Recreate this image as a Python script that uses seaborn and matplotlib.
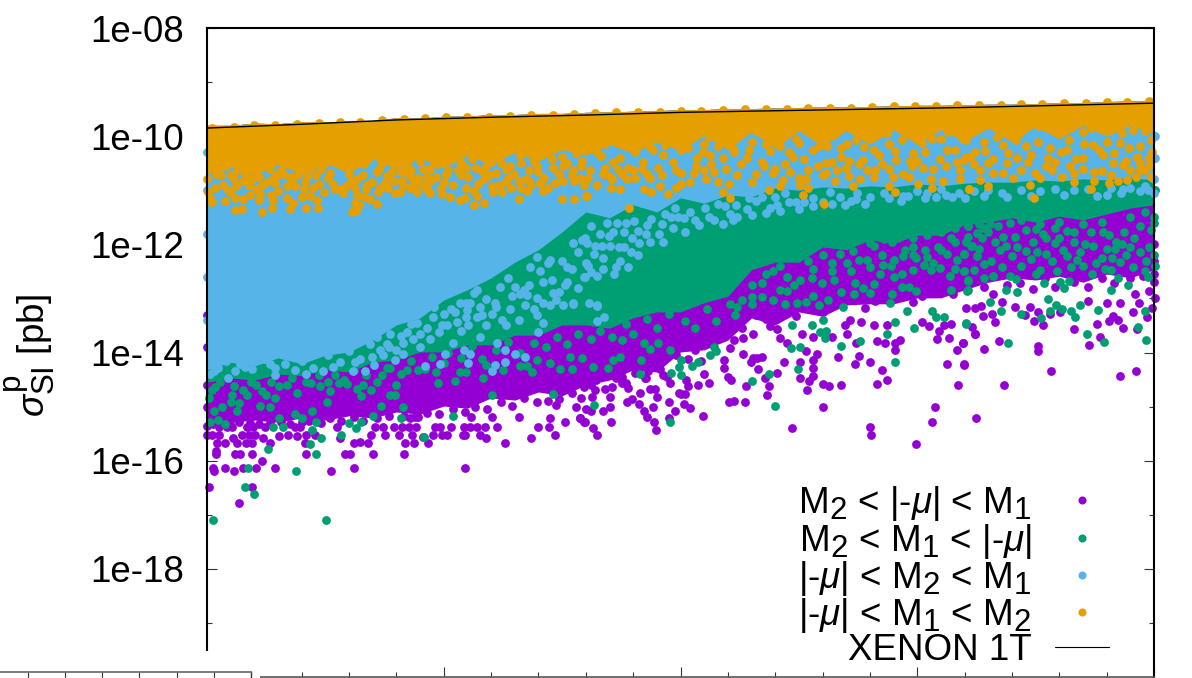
import matplotlib
matplotlib.use("Agg")
import matplotlib.pyplot as plt
import matplotlib._mathtext as _mt
from matplotlib.lines import Line2D
from matplotlib.patches import Rectangle
from matplotlib.ticker import FixedLocator, FixedFormatter, NullFormatter
import numpy as np
import pandas as pd
import seaborn as sns

# ---------- values (x in axis units 0-1000, y as log10 sigma) ----------
band_x = [0,25,50,75,100,125,150,175,200,225,250,275,300,325,350,375,400,425,450,475,500,
          525,550,575,600,625,650,675,700,725,750,775,800,825,850,875,900,925,950,975,1000]
band_top = [-9.80,-9.80,-9.76,-9.77,-9.73,-9.74,-9.71,-9.71,-9.66,-9.67,-9.63,-9.63,-9.60,-9.60,-9.58,-9.58,-9.56,-9.55,-9.54,-9.53,-9.51,
            -9.51,-9.49,-9.49,-9.48,-9.47,-9.46,-9.46,-9.45,-9.44,-9.43,-9.43,-9.42,-9.41,-9.41,-9.40,-9.38,-9.38,-9.36,-9.35,-9.34]
orange_low = [-10.70,-10.55,-10.72,-10.52,-10.70,-10.50,-10.68,-10.42,-10.60,-10.40,-10.58,-10.36,-10.52,-10.30,-10.46,-10.25,-10.35,-10.15,-10.32,-10.08,-10.28,
              -9.98,-10.25,-9.92,-10.22,-9.90,-10.18,-9.90,-10.15,-9.88,-10.15,-9.88,-10.10,-9.85,-10.10,-9.82,-10.05,-9.80,-10.00,-9.80,-9.95]
blue_low = [-14.32,-14.18,-14.25,-14.10,-14.21,-14.05,-13.99,-13.77,-13.49,-13.36,-13.03,-12.84,-12.62,-12.33,-12.10,-11.77,-11.40,-11.51,-11.27,-11.40,-11.14,
            -11.24,-11.09,-11.12,-10.96,-11.00,-10.94,-10.96,-10.92,-10.94,-10.88,-10.92,-10.87,-10.85,-10.85,-10.81,-10.83,-10.79,-10.81,-10.77,-10.81]
green_low = [-14.55,-14.47,-14.51,-14.40,-14.43,-14.32,-14.36,-14.18,-14.14,-13.99,-13.99,-13.86,-13.86,-13.68,-13.68,-13.49,-13.49,-13.55,-13.36,-13.25,-13.25,
             -13.08,-12.96,-12.47,-12.33,-12.33,-12.05,-12.10,-11.92,-11.98,-11.83,-11.83,-11.64,-11.59,-11.51,-11.59,-11.48,-11.55,-11.44,-11.33,-11.27]
purple_low = [-15.25,-15.29,-15.25,-15.29,-15.21,-15.25,-15.17,-15.21,-15.10,-15.14,-14.99,-15.03,-14.84,-14.88,-14.73,-14.80,-14.60,-14.51,-14.32,-14.36,-13.99,
              -13.95,-13.77,-13.36,-13.49,-13.25,-13.33,-13.12,-13.10,-13.10,-12.99,-12.99,-12.84,-12.70,-12.62,-12.66,-12.59,-12.70,-12.55,-12.62,-12.47]

xenon_x = [0,100,200,300,400,500,600,700,800,900,1000]
xenon_y = [-9.85,-9.78,-9.70,-9.65,-9.61,-9.56,-9.53,-9.50,-9.47,-9.43,-9.39]

purple_points = [
 (2,-16.49),(34,-16.79),(48,-16.49),(7,-16.19),(6,-16.13),(19,-16.13),(29,-16.19),(38,-16.13),(52,-16.13),(58,-16.01),(72,-16.13),(131,-16.19),(155,-16.13),(272,-16.13),
 (9,-15.83),(9,-15.88),(30,-15.88),(35,-15.88),(47,-15.88),(105,-15.88),(146,-15.88),(151,-15.88),(175,-15.88),(208,-15.88),
 (11,-15.68),(19,-15.68),(32,-15.68),(41,-15.68),(48,-15.68),(66,-15.68),(104,-15.68),(155,-15.68),(162,-15.65),(170,-15.68),(209,-15.68),(219,-15.68),(233,-15.68),(315,-15.68),
 (0,-15.53),(5,-15.53),(13,-15.53),(27,-15.58),(37,-15.53),(44,-15.53),(51,-15.53),(59,-15.58),(76,-15.55),(86,-15.53),(95,-15.55),(105,-15.53),(114,-15.53),(140,-15.58),(173,-15.53),(188,-15.53),(203,-15.53),(216,-15.53),(228,-15.57),(239,-15.53),(248,-15.53),(253,-15.53),(270,-15.53),(272,-15.53),(288,-15.53),(295,-15.58),(342,-15.58),(368,-15.53),
 (13,-15.38),(21,-15.38),(26,-15.38),(42,-15.38),(49,-15.38),(61,-15.38),(93,-15.38),(98,-15.38),(137,-15.38),(177,-15.38),(186,-15.38),(197,-15.38),(206,-15.38),(213,-15.38),(221,-15.38),(241,-15.38),(246,-15.38),(258,-15.38),(271,-15.38),(278,-15.38),(285,-15.38),(294,-15.38),(306,-15.38),(350,-15.38),(361,-15.38),
 (329,-15.19),(362,-15.22),(378,-15.28),(394,-15.22),(399,-15.28),(301,-15.19),(279,-15.19),(214,-15.22),(223,-15.19),(390,-15.00),(369,-14.97),
 (412,-15.53),(408,-15.40),(398,-15.28),(394,-15.22),(427,-15.28),(474,-15.43),(472,-15.28),(465,-15.19),(488,-15.22),(494,-15.08),(524,-15.17),(618,-15.39),(700,-15.38),(701,-15.53),(749,-15.69),(766,-15.28),(769,-15.00),(812,-15.22),(651,-15.00),
 (551,-14.92),(556,-14.90),(568,-14.92),(591,-14.78),(593,-14.62),(569,-14.62),(634,-14.69),(650,-14.58),(657,-14.62),(670,-14.60),(708,-14.58),(793,-14.60),(718,-14.50),(713,-14.32),(700,-14.18),(684,-14.21),(688,-14.07),(666,-14.09),(781,-14.21),(799,-14.22),(792,-13.95),(798,-13.82),(783,-13.73),(771,-13.75),(773,-13.60),(778,-13.49),(786,-13.48),(762,-13.51),(811,-13.65),(755,-13.43),
 (726,-13.95),(727,-13.83),(732,-13.76),(716,-13.83),(708,-13.79),(685,-13.82),(626,-14.48),(640,-14.43),(636,-14.53),(609,-14.18),(626,-14.18),(640,-14.28),(589,-14.48),(602,-14.37),(582,-14.31),
 (546,-14.13),(546,-14.28),(550,-14.45),(553,-14.50),(530,-14.57),(518,-14.60),(525,-14.40),(508,-14.62),(506,-14.51),(505,-14.77),(500,-14.77),(498,-14.74),(510,-15.03),(504,-14.96),(475,-14.82),(471,-15.00),(488,-14.92),(461,-15.09),(456,-14.96),(443,-14.92),(449,-14.86),(457,-14.74),(468,-14.68),(473,-14.68),
 (426,-15.00),(426,-14.82),(418,-15.08),(405,-15.08),(400,-15.05),(407,-14.82),(398,-14.63),(405,-14.60),(411,-14.51),(428,-14.63),(438,-14.57),(445,-14.66),(426,-14.42),(438,-14.32),(438,-14.45),(464,-14.48),(466,-14.35),(481,-14.42),(489,-14.57),
 (566,-14.02),(574,-14.17),(586,-14.08),(577,-14.10),(581,-14.10),(566,-13.74),(577,-13.65),(556,-13.77),(552,-13.92),(605,-13.74),(612,-13.82),(602,-13.57),(595,-13.51),(628,-13.65),(640,-13.71),(660,-13.71),(633,-13.98),(644,-14.02),(640,-14.14),(676,-13.65),(674,-13.49),(679,-13.40),(704,-13.49),(691,-13.43),(718,-13.49),
 (842,-14.61),(891,-14.34),(964,-14.43),(981,-14.35),(799,-14.23),(820,-13.94),(836,-13.78),(877,-13.88),(878,-13.98),(798,-13.83),(811,-13.66),(808,-13.52),(931,-13.86),(943,-13.71),(916,-13.57),(967,-13.55),(982,-13.57),(940,-13.47),(883,-13.50),(873,-13.41),(832,-13.44),(819,-13.32),(993,-13.35),(952,-13.41),(962,-13.39),(957,-13.32),(978,-13.26),(877,-13.26),(864,-13.31),(829,-13.29),(801,-13.18),(811,-13.18),(817,-13.14),(840,-13.06),(853,-13.15),(869,-13.16),(890,-13.29),(901,-13.26),(930,-13.04),(950,-13.09),(964,-13.09),(984,-13.09),(998,-13.18),(995,-12.87),(980,-12.91),
 (0,-15.00),(0,-14.60),(0,-13.90),(0,-13.30),(0,-15.35),(1000,-12.70),(1000,-12.30),(1000,-12.00),(1001,-13.00),
 (6,-15.32),(16,-15.30),(24,-15.33),(34,-15.28),(45,-15.30),(55,-15.33),(66,-15.30),(78,-15.28),(88,-15.33),(100,-15.28),(108,-15.26),(120,-15.30),(130,-15.22),(142,-15.26),(155,-15.20),(165,-15.26),(180,-15.22),(192,-15.18),(208,-15.18),(220,-15.20),(232,-15.12),(245,-15.14),(260,-15.05),(272,-15.10),(283,-15.00),(296,-15.05),(310,-14.92),(322,-14.98),(335,-14.85),(348,-14.92),(360,-14.90),(372,-14.86),(385,-14.75),(395,-14.85),(410,-14.70),(420,-14.68),(432,-14.48),(442,-14.56),(452,-14.38),(462,-14.48),(478,-14.30),(486,-14.45),(495,-14.05),(508,-14.12),(515,-13.95),(522,-14.15),(535,-13.60),(545,-13.72),(558,-13.42),(565,-13.55),(580,-13.30),(590,-13.38),(612,-13.20),(622,-13.32),(636,-13.18),(650,-13.25),(662,-13.08),(680,-13.02),(695,-13.18),(705,-13.04),(722,-13.02),(735,-12.92),(745,-13.06),(755,-12.95),(770,-12.85),(788,-12.92),(805,-12.72),(820,-12.78),(830,-12.92),(845,-12.75),(858,-12.72),(872,-12.82),(885,-12.62),(895,-12.78),(915,-12.70),(930,-12.78),(945,-12.62),(958,-12.72),(975,-12.62),(988,-12.58),(1000,-12.55),
]

green_points = [
 (64,-15.78),(43,-16.13),(40,-16.49),(50,-16.61),(6,-17.09),(126,-17.09),(94,-16.19),(115,-15.88),(109,-15.69),(120,-15.58),(141,-15.53),(229,-15.57),(111,-15.43),(157,-15.39),(150,-15.30),(163,-15.28),(80,-15.38),(70,-15.37),(19,-15.33),(12,-15.25),(3,-15.28),(76,-15.22),(100,-15.21),(115,-15.28),(175,-15.17),(205,-15.22),(260,-15.17),(207,-15.00),(184,-14.98),(111,-15.08),(93,-15.14),(7,-15.08),(16,-15.00),(32,-15.09),(56,-14.98),(66,-15.00),(127,-14.92),(72,-14.85),(2,-14.85),(25,-14.91),(34,-14.94),(42,-14.79),(62,-14.79),(95,-14.74),(163,-14.80),(193,-14.79),(198,-14.79),(301,-14.79),(365,-14.77),(76,-14.62),(52,-14.60),(26,-14.79),(8,-14.64),(130,-14.71),(158,-14.68),(173,-14.69),(200,-14.60),(244,-14.57),(262,-14.53),(291,-14.48),(148,-14.59),(139,-14.57),(119,-14.62),(110,-14.57),(165,-14.60),(179,-14.54),(343,-14.36),(338,-14.25),(373,-14.31),(385,-14.31),(330,-14.25),(313,-14.32),(348,-14.13),(362,-14.20),(383,-14.09),(396,-14.11),(193,-14.29),(242,-14.36),(223,-14.32),(211,-14.32),(267,-14.36),(274,-14.36),(295,-14.23),
 (409,-14.97),(489,-15.28),(600,-14.99),(575,-14.52),(593,-14.39),(624,-14.31),(617,-13.92),(626,-13.89),(670,-13.88),(690,-13.79),(727,-14.18),(801,-13.47),(747,-13.54),(739,-13.24),(766,-13.23),(770,-13.34),(778,-13.34),(726,-13.43),(718,-13.65),(639,-13.49),(647,-13.62),(654,-13.60),(653,-13.74),(651,-13.40),(618,-13.49),
 (490,-14.37),(501,-14.42),(498,-14.26),(512,-14.25),(519,-14.17),(423,-14.28),(457,-14.39),(408,-14.26),(531,-14.05),(535,-13.89),(537,-13.98),(458,-14.13),(429,-14.13),(436,-14.09),(468,-13.94),(461,-13.83),(489,-13.95),(476,-13.82),(438,-13.76),(501,-14.13),
 (801,-13.46),(846,-13.83),(929,-13.65),(947,-13.81),(983,-13.53),(992,-13.76),(941,-13.21),(917,-13.34),(881,-13.36),(860,-13.29),(838,-13.23),(827,-13.06),(890,-13.23),(897,-13.12),(903,-13.20),(912,-13.24),(922,-13.12),(991,-13.23),(888,-13.02),(955,-12.84),(973,-12.75),(994,-12.60),(962,-12.63),(855,-12.89),(844,-12.84),(803,-12.86),(804,-12.67),(884,-12.71),(901,-12.69),(905,-12.80),(910,-12.68),(854,-12.65),(848,-12.59),(875,-12.55),(799,-12.49),(821,-12.62),(830,-12.58),
 (799,-12.17),(813,-12.22),(820,-12.36),(807,-12.04),(802,-11.95),(837,-12.10),(844,-12.04),(865,-12.12),(876,-12.15),(886,-12.17),(895,-11.98),(904,-12.10),(908,-12.21),(922,-12.15),(919,-12.29),(927,-11.99),(936,-12.04),(939,-12.34),(945,-12.26),(959,-12.09),(956,-12.26),(964,-12.32),(992,-12.30),(979,-11.89),(966,-11.99),(960,-11.95),(968,-11.77),(997,-11.73),(985,-11.67),(953,-11.83),(946,-11.78),(934,-11.77),(916,-11.78),(908,-11.75),(895,-11.70),(883,-11.80),(886,-11.89),(872,-11.95),(853,-11.86),(841,-11.86),(832,-11.95),(818,-11.89),(813,-11.79),(819,-11.70),(804,-11.86),(804,-11.67),(865,-11.73),(848,-11.61),(827,-11.62),
 (565,-13.03),(575,-12.97),(586,-12.97),(598,-13.03),(612,-12.87),(623,-13.09),(633,-13.06),(646,-13.12),(656,-13.03),(672,-13.15),(683,-12.91),(721,-13.09),(723,-12.91),(749,-12.87),(786,-12.84),(804,-12.66),(799,-12.50),(765,-12.47),(774,-12.44),(746,-12.47),(734,-12.54),(725,-12.60),(711,-12.54),(704,-12.74),(693,-12.81),(684,-12.72),(662,-12.66),(649,-12.72),(639,-12.63),(626,-12.66),(612,-12.60),(598,-12.50),(586,-12.72),(785,-12.58),(804,-12.84),(741,-12.78),(734,-12.78),(660,-12.35),(676,-12.35),(688,-12.29),(697,-12.29),(714,-12.38),(725,-12.29),(737,-12.10),(749,-12.26),(758,-12.10),(781,-12.17),(792,-12.29),(799,-12.17),(808,-12.04),(804,-11.67),(786,-11.89),(767,-12.35),(757,-12.38),(723,-11.95),(713,-12.20),(704,-12.04),
 (1001,-11.00),(1000,-10.00),(1001,-12.40),(1000,-11.60),
 (5,-14.70),(14,-14.55),(28,-14.62),(38,-14.70),(46,-14.55),(58,-14.72),(68,-14.55),(85,-14.60),(90,-14.48),(105,-14.55),(118,-14.42),(128,-14.55),(135,-14.42),(145,-14.50),(155,-14.32),(168,-14.42),(185,-14.42),(190,-14.28),(205,-14.40),(215,-14.15),(230,-14.30),(238,-14.08),(250,-14.20),(255,-14.00),(268,-14.10),(280,-13.88),(290,-14.12),(305,-13.95),(318,-13.80),(330,-14.00),(345,-13.82),(358,-13.90),(370,-13.72),(380,-13.85),(392,-13.65),(405,-13.75),(415,-13.60),(428,-13.72),(442,-13.48),(450,-13.65),(465,-13.38),(475,-13.55),(488,-13.28),(505,-13.42),(515,-13.55),(528,-13.20),(538,-13.42),(552,-13.10),(558,-13.30),(575,-12.75),(590,-12.55),(605,-12.40),(635,-12.30),(650,-12.20),(668,-12.18),(682,-12.12),(700,-11.98),(715,-11.90),(730,-11.88),(745,-11.88),(760,-11.82),(775,-11.78),(790,-11.70),(815,-11.62),(835,-11.66),(860,-11.55),(880,-11.62),(900,-11.58),(925,-11.62),(945,-11.58),(975,-11.50),(990,-11.40),(1000,-11.50),
 (722,-12.40),(735,-12.22),(745,-12.05),(760,-12.24),(772,-12.05),(790,-12.45),(810,-12.48),(815,-12.08),(828,-12.30),(840,-12.42),(850,-12.22),(860,-12.40),(870,-12.28),(880,-12.48),(892,-12.30),(898,-12.50),(912,-12.42),(925,-12.40),(935,-12.55),(948,-12.45),(955,-12.48),(970,-12.20),(978,-12.42),(985,-12.15),(990,-12.50),(995,-12.05),(1000,-12.20),(975,-12.05),(950,-12.08),(915,-11.95),(900,-11.88),(875,-11.72),(855,-12.05),(825,-11.78),(790,-11.95),(775,-12.10),(745,-12.20),(700,-12.42),(680,-12.50),(660,-12.50),(640,-12.45),(620,-12.75),(605,-12.85),(575,-13.10),(560,-13.15),(610,-13.10),(640,-12.95),(670,-12.88),(700,-12.90),
]

blue_points = [
 (7,-14.35),(3,-14.39),(22,-14.48),(30,-14.35),(40,-14.26),(51,-14.08),(72,-14.42),(72,-14.29),(93,-14.32),(105,-14.40),(123,-14.34),(133,-14.26),(154,-14.35),(167,-14.34),(176,-14.23),(156,-14.17),(198,-14.14),(207,-14.02),(230,-14.25),(246,-14.21),(276,-14.20),(301,-14.35),(304,-14.23),(315,-14.18),(336,-14.09),(325,-14.02),(278,-14.02),(251,-14.02),(225,-13.89),(207,-13.83),(260,-13.83),(271,-13.95),(315,-13.95),(306,-13.83),(350,-13.62),(288,-13.71),(225,-13.65),(193,-13.65),(211,-13.62),(183,-13.95),(174,-14.08),(144,-13.89),(348,-13.31),(362,-13.12),(376,-13.12),(387,-13.10),(336,-13.12),(301,-13.28),(288,-13.15),(267,-13.09),(278,-13.09),(253,-13.49),(264,-13.43),(285,-13.34),(274,-13.34),(250,-13.28),(239,-13.34),(214,-13.34),(316,-13.49),(329,-13.40),(355,-13.46),
 (355,-12.69),(364,-12.66),(380,-12.69),(399,-12.60),(369,-13.03),(355,-13.09),(338,-12.94),(330,-12.91),(309,-12.78),(387,-13.09),(403,-13.09),(325,-12.78),(380,-12.41),(396,-11.92),(387,-11.98),(362,-12.29),(341,-12.41),(348,-12.23),(292,-12.41),(285,-12.84),(274,-13.09),(304,-13.09),
 (398,-12.60),(405,-12.52),(412,-12.58),(436,-12.30),(432,-12.41),(445,-12.41),(412,-13.13),(409,-12.17),(417,-12.04),(426,-12.04),(401,-11.98),(410,-12.04),(456,-11.97),(449,-11.89),(464,-11.81),(477,-11.80),(440,-11.77),(429,-11.77),(399,-11.89),(415,-11.80),(422,-11.61),(405,-11.67),(433,-11.61),(442,-11.61),(451,-11.56),(469,-11.54),(484,-11.44),(497,-11.50),(504,-11.51),(520,-11.64),(552,-11.43),(570,-11.35),(559,-11.28),(547,-11.30),(526,-11.33),(494,-11.32),(473,-11.30),(459,-11.24),(602,-11.28),(622,-11.22),(630,-11.21),(674,-11.27),(733,-11.20),(758,-11.14),(787,-11.12),(794,-11.06),(686,-11.06),(658,-11.03),(610,-11.06),(600,-11.12),(572,-11.15),(586,-11.12),
 (412,-13.14),(419,-13.34),(412,-13.41),(950,-11.09),(967,-10.97),(994,-10.99),
 (0,-10.30),(0,-11.00),(0,-11.80),(0,-12.60),(0,-13.40),(1001,-10.40),(1000,-10.80),(1001,-10.00),
 (12,-14.28),(20,-14.15),(35,-14.22),(48,-14.30),(60,-14.12),(66,-14.22),(82,-14.22),(100,-14.15),(112,-14.28),(128,-14.05),(140,-14.18),(150,-13.98),(162,-14.12),(172,-13.85),(186,-14.05),(180,-13.72),(192,-13.90),(200,-13.95),(215,-13.48),(218,-13.75),(232,-13.55),(240,-13.15),(245,-13.62),(258,-13.20),(268,-13.60),(275,-13.22),(282,-12.90),(295,-13.02),(295,-13.50),(312,-13.40),(318,-12.62),(322,-12.95),(340,-12.75),(352,-12.50),(345,-13.20),(360,-12.35),(372,-12.88),(375,-12.30),(385,-12.45),(392,-12.15),(400,-12.35),(418,-12.25),(425,-11.85),(435,-12.05),(448,-12.15),(455,-11.75),(465,-11.65),(480,-11.62),(490,-11.50),(510,-11.40),(530,-11.50),(540,-11.25),(555,-11.55),(580,-11.20),(595,-11.32),(615,-11.22),(640,-11.15),(650,-11.22),(668,-11.12),(685,-11.16),(700,-11.12),(715,-11.06),(740,-11.10),(750,-11.02),(770,-11.12),(775,-10.98),(810,-11.02),(825,-11.00),(840,-11.05),(860,-11.00),(880,-11.02),(895,-10.98),(915,-11.00),(930,-10.98),(955,-10.95),(975,-10.95),(990,-10.93),
 (190,-13.85),(205,-13.70),(222,-13.45),(235,-13.75),(248,-13.50),(262,-13.25),(276,-13.50),(290,-13.30),(305,-13.15),(320,-13.20),(335,-12.85),(348,-13.00),(365,-12.90),(378,-12.75),(392,-12.80),(402,-12.40),(418,-12.45),(430,-12.55),(440,-12.05),(455,-12.20),(468,-11.95),(482,-11.95),(492,-11.70),(505,-11.78),(515,-11.55),(535,-11.55),(545,-11.62),(560,-11.50),(575,-11.45),(590,-11.42),(605,-11.38),(625,-11.35),(640,-11.30),(660,-11.25),(680,-11.20),(695,-11.25),(720,-11.15),(735,-11.10),(760,-11.05),(780,-11.08),(800,-11.15),(820,-11.10),(845,-11.12),(870,-11.10),(905,-11.08),(940,-11.10),(965,-11.05),(985,-11.02),(1000,-11.05),
]

orange_points = [
 (58,-11.41),(30,-11.36),(37,-11.35),(69,-11.32),(88,-11.34),(105,-11.33),(117,-11.32),(153,-11.40),(157,-11.38),(161,-11.28),(156,-11.23),(179,-11.25),(282,-11.27),(293,-11.24),(267,-11.18),(272,-11.15),(329,-11.16),(375,-11.17),(388,-11.16),(401,-11.10),(285,-11.11),
 (5,-11.22),(19,-11.19),(3,-11.15),(1,-11.03),(24,-11.04),(30,-11.15),(38,-11.17),(45,-11.09),(55,-11.18),(56,-11.07),(68,-11.09),(70,-11.18),(75,-11.01),(85,-11.15),(91,-11.24),(100,-11.12),(109,-11.11),(116,-11.18),(124,-11.04),(144,-11.06),(158,-11.09),(166,-11.13),(172,-11.17),(181,-11.03),(191,-10.95),(198,-11.06),(204,-11.04),(222,-11.04),(236,-11.06),(248,-11.07),(257,-11.12),(247,-10.96),(302,-11.04),(312,-11.04),(321,-10.96),(332,-10.95),(342,-10.90),(355,-11.01),(360,-10.96),
 (274,-10.95),(286,-10.89),(301,-10.92),(316,-10.84),(329,-10.82),(337,-10.79),(376,-10.82),(394,-10.78),(214,-10.95),(228,-10.90),(207,-10.90),(197,-10.82),(206,-10.82),(216,-10.78),(223,-10.78),(232,-10.75),(242,-10.75),(169,-10.90),(183,-10.96),(156,-10.96),(147,-10.93),(133,-10.88),(103,-10.85),(93,-10.93),(63,-10.84),(72,-10.86),(84,-10.93),(44,-10.90),(31,-10.93),(17,-10.90),(273,-10.59),(284,-10.29),(320,-10.56),(376,-10.56),(350,-10.66),(387,-10.63),
 (10,-10.70),(25,-10.72),(40,-10.68),(55,-10.75),(80,-10.70),(95,-10.72),(115,-10.72),(130,-10.68),(150,-10.70),(165,-10.72),(180,-10.66),(195,-10.66),(215,-10.62),(235,-10.60),(255,-10.62),(290,-10.65),(305,-10.68),(340,-10.62),(365,-10.58),(395,-10.55),(0,-10.80),
 (400,-11.10),(446,-11.32),(461,-10.98),(469,-11.04),(487,-11.07),(495,-10.95),(501,-10.88),(478,-10.92),(545,-11.04),(552,-11.15),(551,-10.88),(593,-11.00),(605,-10.92),(626,-10.91),(629,-11.09),(635,-10.96),(652,-11.26),(682,-10.93),(720,-10.93),(727,-11.03),(751,-10.88),(766,-10.95),(777,-10.82),(805,-10.97),(795,-10.80),(741,-10.76),(724,-10.76),(704,-10.75),(690,-10.80),(678,-10.74),(663,-10.82),(651,-10.72),(633,-10.80),(608,-10.81),(598,-10.69),(588,-10.56),(527,-10.80),(535,-10.67),(514,-10.69),(468,-10.78),(452,-10.78),(438,-10.70),(424,-10.74),(412,-10.90),(427,-10.95),(398,-10.90),(436,-10.98),
 (767,-10.61),(756,-10.58),(744,-10.56),(713,-10.51),(697,-10.63),(665,-10.63),(654,-10.69),(635,-10.63),(616,-10.66),(459,-10.61),(445,-10.58),(429,-10.47),(416,-10.37),(676,-10.14),(517,-10.41),(531,-10.35),(545,-10.41),(586,-10.47),(570,-10.41),(619,-10.38),(605,-10.19),(640,-10.26),(669,-10.38),(693,-10.44),(728,-10.44),(792,-10.47),(801,-10.38),(746,-10.32),(781,-10.26),(802,-10.07),(704,-10.26),(482,-10.35),(471,-10.26),
 (500,-10.25),(525,-10.15),(555,-10.22),(575,-10.10),(595,-10.28),(625,-10.12),(655,-10.18),(685,-10.08),(720,-10.15),(755,-10.12),(775,-10.05),
 (811,-10.29),(825,-10.50),(799,-10.44),(816,-10.63),(816,-10.81),(841,-10.69),(851,-10.78),(855,-10.41),(867,-10.47),(874,-10.69),(892,-10.63),(888,-10.41),(911,-10.55),(925,-10.41),(946,-10.35),(957,-10.50),(967,-10.53),(985,-10.50),(990,-10.63),(975,-10.63),(996,-10.53),(985,-10.19),(964,-10.13),(936,-10.16),(908,-10.26),(890,-10.22),(865,-10.19),(841,-10.16),(820,-10.10),(806,-9.95),(834,-10.01),(858,-9.95),(879,-9.82),(901,-9.95),(925,-9.92),(950,-9.89),(978,-9.89),(997,-10.07),
 (873,-11.14),(805,-10.97),(825,-10.93),(869,-10.90),(934,-10.98),(937,-10.66),(937,-10.83),(952,-10.87),(962,-10.83),(972,-10.81),(981,-10.76),(997,-10.75),(916,-10.69),(903,-10.75),
 (4,-10.50),(12,-10.62),(20,-10.55),(28,-10.80),(35,-10.60),(42,-10.78),(50,-10.65),(58,-10.90),(66,-10.60),(74,-10.72),(82,-10.52),(90,-10.82),(98,-10.62),(106,-10.74),(112,-10.95),(120,-10.60),(128,-10.78),(136,-10.50),(142,-10.98),(150,-10.58),(158,-10.80),(166,-10.52),(174,-10.85),(182,-10.60),(190,-10.74),(198,-10.55),(205,-10.66),(212,-10.46),(220,-10.88),(228,-10.60),(236,-10.82),(244,-10.52),(252,-10.70),(260,-10.90),(268,-10.50),(276,-10.75),(284,-10.58),(292,-10.80),(300,-10.48),(308,-10.90),(316,-10.60),(324,-10.70),(332,-10.50),(340,-10.82),(348,-10.56),(356,-10.78),(364,-10.42),(372,-10.70),(380,-10.50),(388,-10.82),(396,-10.45),(404,-10.62),(412,-10.30),(420,-10.58),(428,-10.80),(436,-10.40),(444,-10.80),(452,-10.30),(460,-10.48),(468,-10.20),(476,-10.58),(484,-10.16),(492,-10.48),(500,-10.68),(508,-10.22),(516,-10.55),(524,-10.30),(532,-10.52),(540,-10.18),(548,-10.60),(556,-10.30),(564,-10.52),(572,-10.25),(580,-10.70),(590,-10.15),(600,-10.60),
 (15,-10.72),(32,-10.62),(47,-10.80),(62,-10.50),(78,-10.62),(95,-10.50),(110,-10.58),(125,-10.50),(145,-10.48),(170,-10.42),(185,-10.50),(210,-10.56),(225,-10.45),(240,-10.50),(265,-10.62),(280,-10.42),(295,-10.56),(310,-10.50),(330,-10.35),(345,-10.45),(360,-10.30),(375,-10.38),(390,-10.32),(405,-10.20),(420,-10.14),(440,-10.08),(455,-10.10),(475,-10.05),(490,-10.00),(510,-9.98),(530,-10.02),(545,-9.92),(560,-9.98),(580,-9.90),
 (608,-9.95),(615,-10.30),(622,-10.05),(630,-10.42),(638,-9.90),(646,-10.18),(654,-10.50),(662,-9.98),(670,-10.22),(678,-10.46),(686,-9.88),(694,-10.20),(702,-10.02),(710,-10.35),(718,-9.95),(726,-10.28),(734,-10.08),(742,-10.45),(750,-9.85),(758,-10.30),(766,-10.05),(774,-10.42),(782,-9.92),(790,-10.25),(798,-10.05),(806,-10.38),(814,-9.85),(822,-10.28),(830,-10.42),(838,-9.92),(846,-10.32),(854,-10.08),(862,-9.85),(870,-10.35),(878,-10.10),(886,-10.55),(894,-9.88),(902,-10.30),(910,-10.08),(918,-10.42),(926,-10.15),(934,-9.85),(942,-10.25),(950,-10.10),(958,-10.32),(966,-9.95),(974,-10.22),(982,-10.38),(990,-9.90),(998,-10.30),
 (620,-9.78),(660,-9.75),(700,-9.75),(740,-9.72),(780,-9.70),(820,-9.72),(860,-9.70),(900,-9.70),(940,-9.68),(980,-9.66),
 (5,-9.84),(28,-9.83),(50,-9.80),(72,-9.80),(95,-9.78),(118,-9.76),(140,-9.74),(162,-9.73),(185,-9.70),(208,-9.69),(230,-9.67),(252,-9.65),(275,-9.64),(298,-9.64),(320,-9.62),(342,-9.61),(365,-9.60),(388,-9.59),(410,-9.58),(432,-9.56),(455,-9.56),(478,-9.55),(500,-9.53),(522,-9.53),(545,-9.51),(568,-9.50),(590,-9.50),(612,-9.49),(635,-9.48),(658,-9.47),(680,-9.47),(702,-9.46),(725,-9.45),(748,-9.44),(770,-9.44),(792,-9.43),(815,-9.42),(838,-9.42),(860,-9.41),(882,-9.40),(905,-9.39),(928,-9.38),(950,-9.37),(972,-9.36),(995,-9.35),
 (8,-10.95),(22,-11.00),(38,-10.82),(52,-10.98),(70,-10.78),(88,-10.76),(102,-10.98),(118,-10.88),(135,-10.98),(152,-10.85),(168,-10.98),(188,-10.86),(212,-10.70),(232,-10.98),(250,-10.84),(268,-10.72),(282,-11.02),(298,-10.72),(318,-10.78),(338,-11.02),(352,-10.86),(368,-10.86),(385,-10.72),(402,-10.78),(418,-10.70),(434,-10.60),(450,-10.62),(465,-10.70),(480,-10.72),(495,-10.62),(510,-10.85),(525,-10.62),(540,-10.85),(560,-10.72),(575,-10.85),
 (610,-10.52),(625,-10.78),(645,-10.56),(660,-10.48),(675,-10.58),(688,-10.52),(705,-10.62),(720,-10.60),(735,-10.70),(750,-10.45),(765,-10.80),(780,-10.55),(795,-10.62),(810,-10.52),(830,-10.68),(845,-10.50),(860,-10.62),(880,-10.78),(895,-10.48),(915,-10.85),(925,-10.60),(945,-10.65),(955,-10.72),(970,-10.45),(985,-10.62),(995,-10.40),
]

series_labels = [r"$\mathrm{M_2}$ < |-$\mu$| < $\mathrm{M_1}$",
                 r"$\mathrm{M_2}$ < $\mathrm{M_1}$ < |-$\mu$|",
                 r"|-$\mu$| < $\mathrm{M_2}$ < $\mathrm{M_1}$",
                 r"|-$\mu$| < $\mathrm{M_1}$ < $\mathrm{M_2}$"]
series_colors = ["#9400D3", "#009E73", "#56B4E9", "#E69F00"]
line_label = "XENON 1T"
y_major = [-18, -16, -14, -12, -10, -8]
y_minor = [-19, -17, -15, -13, -11, -9]
y_major_labels = ["1e-18", "1e-16", "1e-14", "1e-12", "1e-10", "1e-08"]

# ---------- figure ----------
sns.set_theme(style="ticks")
plt.rcParams["font.family"] = ["Liberation Sans", "DejaVu Sans"]
plt.rcParams["text.color"] = "black"
plt.rcParams["axes.labelcolor"] = "black"
plt.rcParams["mathtext.fontset"] = "custom"
plt.rcParams["mathtext.rm"] = "Liberation Sans"
plt.rcParams["mathtext.it"] = "Liberation Sans:italic"
plt.rcParams["mathtext.bf"] = "Liberation Sans:bold"
_mt.SHRINK_FACTOR = 0.85

W, H = 1192, 678
FS = 26.5
fig = plt.figure(figsize=(W / 100, H / 100), dpi=100, facecolor="white")
ax = fig.add_axes([207 / W, (H - 677) / H, 947 / W, 649 / H])
ax.set_yscale("log")
ax.set_xlim(0, 1000)
ax.set_ylim(1e-20, 1e-8)
ax.set_axisbelow(True)

bx = np.array(band_x)
top = 10.0 ** np.array(band_top)
layers = zip([purple_low, green_low, blue_low, orange_low],
             [purple_points, green_points, blue_points, orange_points],
             series_colors, series_labels)
for i, (low, pts, col, lab) in enumerate(layers):
    ax.fill_between(bx, 10.0 ** np.array(low), top, color=col, lw=0, zorder=1 + 0.2 * i)
    arr = np.array(pts, dtype=float)
    frame = pd.DataFrame({"x": arr[:, 0], "sigma": 10.0 ** arr[:, 1], "series": lab})
    sns.scatterplot(data=frame, x="x", y="sigma", color=col, s=40, linewidth=0, legend=False,
                    ax=ax, clip_on=False, zorder=1.1 + 0.2 * i)
sns.lineplot(x=np.array(xenon_x), y=10.0 ** np.array(xenon_y), color="black", lw=1.0, ax=ax,
             zorder=3, legend=False, errorbar=None)

ax.yaxis.set_major_locator(FixedLocator([10.0 ** v for v in y_major]))
ax.yaxis.set_major_formatter(FixedFormatter(y_major_labels))
ax.yaxis.set_minor_locator(FixedLocator([10.0 ** v for v in y_minor]))
ax.yaxis.set_minor_formatter(NullFormatter())
ax.set_xticks([0, 250, 500, 750, 1000])
ax.set_xticks([50,100,150,200,300,350,400,450,550,600,650,700,800,850,900,950], minor=True)
ax.set_xticklabels([])
ax.tick_params(axis="y", which="major", direction="in", left=True, right=True, length=7.2, width=0.8,
               color="#333333", labelsize=FS, pad=16.5, labelcolor="black")
ax.tick_params(axis="y", which="minor", direction="in", left=True, right=True, length=3.6, width=0.8, color="#333333")
ax.tick_params(axis="x", which="major", direction="in", bottom=True, top=False, length=7.2, width=0.8, color="#333333")
ax.tick_params(axis="x", which="minor", direction="in", bottom=True, top=False, length=3.6, width=0.8, color="#333333")
for side in ["left", "right", "top"]:
    ax.spines[side].set_linewidth(1.5)
    ax.spines[side].set_color("black")
ax.spines["bottom"].set_linewidth(1.2)
ax.spines["bottom"].set_color("#555555")
ax.set_xlabel("")
ax.set_ylabel(r"$\sigma^{\mathrm{p}}_{\mathrm{SI}}$ [pb]", fontsize=FS, color="black")
ax.yaxis.set_label_coords((57 - 207) / 947, (677 - 355) / 649)

handles = [Line2D([], [], ls="", marker="o", ms=5.8, mew=0, color=c) for c in series_colors]
handles.append(Line2D([], [], color="black", lw=0.8))
ax.legend(handles, series_labels + [line_label], markerfirst=False, frameon=False, fontsize=FS,
          loc="lower right", bbox_to_anchor=((1109 - 207) / 947, (677 - 668) / 649), borderaxespad=0, borderpad=0,
          handlelength=1.46, handletextpad=0.64, labelspacing=-0.05)

# strip of the neighbouring panel that covers the lower left corner
fig.add_artist(Rectangle((0, 0), 260 / W, 27 / H, transform=fig.transFigure, facecolor="white",
                         edgecolor="none", zorder=4))
strip = fig.add_axes([-0.001, 0, 252 / W, 6 / H], zorder=5)
strip.set_xlim(0, 252)
strip.set_ylim(0, 1)
strip.set_xticks([29, 66, 103, 140, 178, 215])
strip.set_xticklabels([])
strip.set_yticks([])
strip.tick_params(axis="x", bottom=False, top=True, direction="in", length=4.5, width=0.8, color="#333333")
strip.spines["left"].set_visible(False)
strip.spines["bottom"].set_visible(False)
strip.spines["top"].set_color("#666666")
strip.spines["top"].set_linewidth(1.2)
strip.spines["right"].set_color("#333333")
strip.spines["right"].set_linewidth(1.0)

fig.savefig("out.png", dpi=100)
